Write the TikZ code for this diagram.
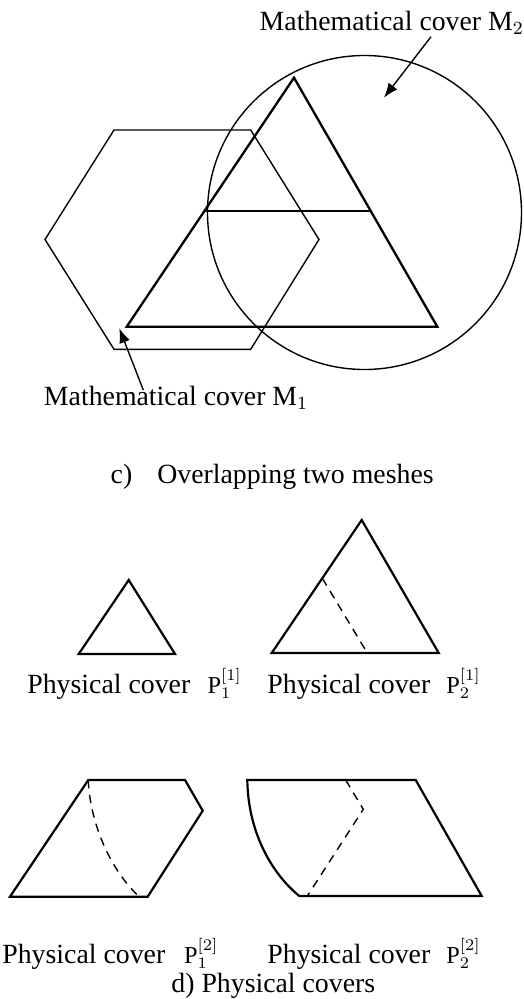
\documentclass[tikz,border=0pt]{standalone}
\usepackage{fontspec}
\setmainfont{Liberation Serif}
\usetikzlibrary{calc,arrows.meta}

\newcommand{\pcov}[2]{{\fontsize{10.5}{12}\selectfont$\mathrm{P}_{#1}^{[#2]}$}}

\begin{document}
\begin{tikzpicture}[
    x=0.4317pt, y=-0.4317pt,
    >={Latex[length=6.3pt,width=4.8pt]},
    line width=0.6pt,
    every node/.style={font=\fontsize{12}{14}\selectfont, inner sep=0pt},
    mesh/.style={line width=1pt, line join=miter},
    cover/.style={line width=0.6pt},
    piece/.style={line width=0.95pt, line join=miter},
    cut/.style={dashed, line width=0.6pt, dash pattern=on 3.6pt off 2.8pt},
  ]
  \useasboundingbox (0,0) rectangle (523,999);

  % c) the two meshes
  \coordinate (A) at (294,77.7);
  \coordinate (B) at (126.7,326.7);
  \coordinate (C) at (437.3,326.7);
  \coordinate (AB) at ($(A)!0.534!(B)$);
  \coordinate (AC) at ($(A)!0.534!(C)$);
  \draw[mesh] (A) -- (B) -- (C) -- cycle;
  \draw[mesh] (AB) -- (AC);

  \draw[cover] (364.5,212.5) circle (157);
  \draw[cover] (45,239.5) -- (114,130) -- (250.7,130) -- (319,239.5)
    -- (250.7,349.3) -- (114,349.3) -- cycle;

  \node[anchor=base west] (m2lbl) at (259,30) {Mathematical cover $\mathrm{M}_2$};
  \node[anchor=base west] (m1lbl) at (43.3,405) {Mathematical cover $\mathrm{M}_1$};
  \coordinate (m2tail) at (431,36.7);
  \coordinate (m2tip) at (384,97.7);
  \coordinate (m1tail) at (143.3,390);
  \coordinate (m1tip) at (119.3,328.3);
  \draw[->] (m2tail) -- (m2tip);
  \draw[->] (m1tail) -- (m1tip);

  \node[anchor=base west] (capc) at (110,483.3) {c)\hspace{0.9em}Overlapping two meshes};

  % d) physical covers, first row
  \draw[piece] (128.7,580) -- (78.7,654) -- (175,654) -- cycle;
  \draw[piece] (361.7,520) -- (271.7,653) -- (438.7,653) -- cycle;
  \draw[cut] (322.3,578.3) -- (367.3,653);

  \node[anchor=base west] (p11lbl) at (26.7,693.3) {Physical cover\hspace{0.62em}\pcov{1}{1}};
  \node[anchor=base west] (p21lbl) at (266.7,693.3) {Physical cover\hspace{0.58em}\pcov{2}{1}};

  % d) physical covers, second row
  \draw[piece] (10,896.7) -- (88.3,780) -- (185,780) -- (202.7,810.7)
    -- (147.7,896.7) -- cycle;
  \draw[cut] (88.3,780) .. controls (90,825) and (112,872) .. (139.3,896.7);

  \draw[piece] (247.3,780) -- (415.7,780) -- (481.7,896) -- (299.3,896)
    .. controls (270,872) and (248,830) .. cycle;
  \draw[cut] (345.7,780) -- (363.3,809.3) -- (307.3,896);

  \node[anchor=base west] (p12lbl) at (1.7,963.3) {Physical cover\hspace{0.68em}\pcov{1}{2}};
  \node[anchor=base west] (p22lbl) at (266.7,963.3) {Physical cover\hspace{0.58em}\pcov{2}{2}};
  \node[anchor=base west] (capd) at (170.7,992.3) {d) Physical covers};
\end{tikzpicture}
\end{document}
